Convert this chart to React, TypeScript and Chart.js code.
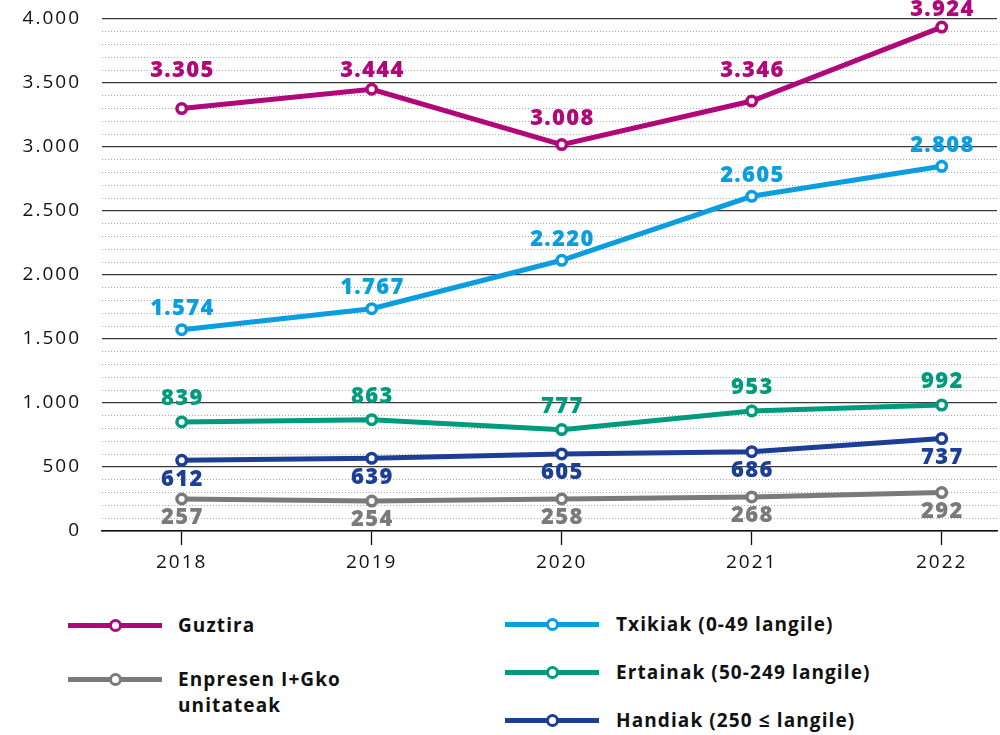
import React, { useEffect, useRef } from 'react';
import { Chart, registerables } from 'chart.js';

Chart.register(...registerables);

// ---------- data ----------
const years = [2018, 2019, 2020, 2021, 2022];

const guztiraValues = [3300, 3451, 3019, 3359, 3937];
const guztiraLabels = [3305, 3444, 3008, 3346, 3924];

const txikiakValues = [1573, 1737, 2115, 2615, 2849];
const txikiakLabels = [1574, 1767, 2220, 2605, 2808];

const ertainakValues = [852, 870, 792, 938, 984];
const ertainakLabels = [839, 863, 777, 953, 992];

const handiakValues = [552, 568, 602, 620, 722];
const handiakLabels = [612, 639, 605, 686, 737];

const enpresenValues = [250, 234, 250, 266, 300];
const enpresenLabels = [257, 254, 258, 268, 292];

const seriesNames = [
  'Guztira',
  'Txikiak (0-49 langile)',
  'Ertainak (50-249 langile)',
  'Handiak (250 ≤ langile)',
  'Enpresen I+Gko unitateak',
];

const yMin = 0;
const yMax = 4000;
const yStep = 100;
const yMajorStep = 500;

// ---------- styles ----------
const COLORS = ['#B0077A', '#0A9DDF', '#009A7C', '#1C3F95', '#7A7A7A'];
// vertical offset (px) of the value label centre from the point centre
const LABEL_OFFSETS: (number | number[])[] = [[-38, -18.5, -26, -30, -17], -21, -23, 19, 19];
const FONT = '"Open Sans", "Noto Sans", sans-serif';

const fmt = (n: number) => {
  if (n >= 1000) {
    const th = Math.floor(n / 1000);
    const rest = String(n % 1000).padStart(3, '0');
    return th + '.' + rest;
  }
  return String(n);
};

const valuesList = [guztiraValues, txikiakValues, ertainakValues, handiakValues, enpresenValues];
const labelsList = [guztiraLabels, txikiakLabels, ertainakLabels, handiakLabels, enpresenLabels];

const spacingPlugin = {
  id: 'spacing',
  beforeDraw(chart: any) {
    (chart.ctx as any).letterSpacing = '2px';
  },
};

const valueLabelPlugin = {
  id: 'valueLabels',
  afterDatasetsDraw(chart: any) {
    const ctx = chart.ctx;
    ctx.save();
    ctx.font = `800 22px ${FONT}`;
    (ctx as any).letterSpacing = '1.3px';
    ctx.textAlign = 'center';
    ctx.textBaseline = 'middle';
    chart.data.datasets.forEach((ds: any, di: number) => {
      const meta = chart.getDatasetMeta(di);
      ctx.fillStyle = COLORS[di];
      const offs = LABEL_OFFSETS[di];
      meta.data.forEach((el: any, i: number) => {
        const off = Array.isArray(offs) ? offs[i] : offs;
        ctx.fillText(fmt(labelsList[di][i]), el.x + 0.65, el.y + off);
      });
    });
    ctx.restore();
  },
};

const legendLayout = [
  { idx: 0, lineLeft: 68, textLeft: 178, y: 625 },
  { idx: 4, lineLeft: 68, textLeft: 178, y: 679, wrap: true },
  { idx: 1, lineLeft: 505, textLeft: 616, y: 624 },
  { idx: 2, lineLeft: 505, textLeft: 616, y: 672 },
  { idx: 3, lineLeft: 505, textLeft: 616, y: 720 },
];

export default function App() {
  const canvasRef = useRef<HTMLCanvasElement | null>(null);

  useEffect(() => {
    if (!canvasRef.current) return;
    const chart = new Chart(canvasRef.current, {
      type: 'line',
      data: {
        datasets: seriesNames.map((name, i) => ({
          label: name,
          data: years.map((yr, j) => ({ x: yr, y: valuesList[i][j] })),
          borderColor: COLORS[i],
          backgroundColor: '#ffffff',
          borderWidth: 5,
          pointRadius: 4.75,
          pointBorderWidth: 3.5,
          pointBackgroundColor: '#ffffff',
          pointBorderColor: COLORS[i],
          tension: 0,
          fill: false,
        })),
      },
      options: {
        responsive: false,
        animation: false,
        layout: { autoPadding: false, padding: { top: 19, right: 3, bottom: 0, left: 0 } },
        plugins: {
          legend: { display: false },
          tooltip: { enabled: false },
        },
        scales: {
          x: {
            type: 'linear',
            min: 2017.5805,
            max: 2022.291,
            afterBuildTicks: (axis: any) => {
              axis.ticks = years.map((v) => ({ value: v }));
            },
            afterFit: (scale: any) => {
              scale.height = 69;
            },
            ticks: {
              color: '#111',
              font: { family: FONT, size: 19 },
              padding: 6,
              autoSkip: false,
              maxRotation: 0,
              callback: (v: any) => String(v),
            },
            grid: {
              drawOnChartArea: false,
              drawTicks: true,
              tickLength: 14,
              tickColor: '#111',
              tickWidth: 1.3,
            },
            border: { display: true, color: '#111', width: 1.5 },
          },
          y: {
            type: 'linear',
            min: yMin,
            max: yMax,
            afterFit: (scale: any) => {
              scale.width = 102;
              scale.paddingTop = 0;
              scale.paddingBottom = 0;
            },
            ticks: {
              stepSize: yStep,
              maxTicksLimit: 100,
              autoSkip: false,
              color: '#111',
              padding: 21,
              font: { family: FONT, size: 19 },
              callback: (v: any) => (Number(v) % yMajorStep === 0 ? fmt(Number(v)) : ''),
            },
            grid: {
              drawTicks: false,
              color: (ctx: any) => {
                const v = ctx.tick ? ctx.tick.value : 0;
                if (v === 0) return '#111';
                return v % yMajorStep === 0 ? '#3a3a3a' : '#a8a8a8';
              },
              lineWidth: (ctx: any) => {
                const v = ctx.tick ? ctx.tick.value : 0;
                return v % yMajorStep === 0 ? 1.3 : 1;
              },
            },
            border: {
              display: false,
              dash: (ctx: any) => {
                const v = ctx.tick ? ctx.tick.value : 0;
                return v % yMajorStep === 0 ? [] : [1, 2];
              },
            },
          },
        },
      } as any,
      plugins: [spacingPlugin, valueLabelPlugin],
    });
    return () => chart.destroy();
  }, []);

  return (
    <div style={{ position: 'fixed', left: 0, top: 0, width: 1000, height: 735, background: '#fff' }}>
      <canvas ref={canvasRef} width={1000} height={600} style={{ display: 'block' }} />
      {legendLayout.map((it) => (
        <React.Fragment key={it.idx}>
          <div
            style={{
              position: 'absolute',
              left: it.lineLeft,
              top: it.y - 2.5,
              width: 94,
              height: 5,
              background: COLORS[it.idx],
            }}
          />
          <div
            style={{
              position: 'absolute',
              left: it.lineLeft + 47 - 6.5,
              top: it.y - 6.5,
              width: 13,
              height: 13,
              boxSizing: 'border-box',
              border: `3.5px solid ${COLORS[it.idx]}`,
              borderRadius: '50%',
              background: '#fff',
            }}
          />
          <div
            style={{
              position: 'absolute',
              left: it.textLeft,
              top: it.y - 13,
              width: it.wrap ? 210 : 340,
              fontFamily: FONT,
              fontWeight: 700,
              fontSize: 19,
              letterSpacing: '1.1px',
              lineHeight: '26px',
              color: '#111',
              whiteSpace: it.wrap ? 'normal' : 'nowrap',
            }}
          >
            {seriesNames[it.idx]}
          </div>
        </React.Fragment>
      ))}
    </div>
  );
}
